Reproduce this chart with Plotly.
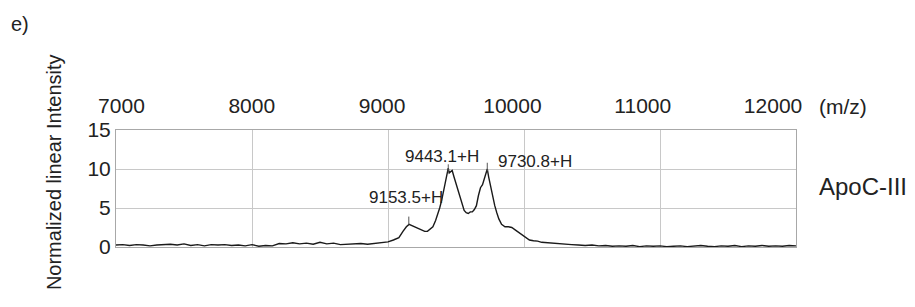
import plotly.graph_objects as go

# ---- data ----
mz = [7000, 7050, 7100, 7150, 7200, 7250, 7300, 7350, 7400, 7450, 7500, 7550, 7600, 7650,
      7700, 7750, 7800, 7850, 7900, 7950, 8000, 8050, 8100, 8150, 8200, 8250, 8300, 8350,
      8400, 8450, 8500, 8550, 8600, 8650, 8700, 8750, 8800, 8850, 8900, 8950, 9000, 9040,
      9080, 9110, 9135, 9155, 9175, 9200, 9240, 9270, 9290, 9310, 9330, 9350, 9365, 9380,
      9395, 9410, 9425, 9435, 9443, 9450, 9460, 9472, 9485, 9500, 9515, 9530, 9545, 9560,
      9575, 9590, 9605, 9620, 9635, 9650, 9665, 9680, 9695, 9705, 9718, 9730, 9740, 9755,
      9770, 9785, 9800, 9815, 9835, 9860, 9885, 9910, 9935, 9960, 9985, 10010, 10040, 10070,
      10100, 10130, 10160, 10200, 10250, 10300, 10350, 10400, 10450, 10500, 10550, 10600,
      10650, 10700, 10750, 10800, 10850, 10900, 10950, 11000, 11050, 11100, 11150, 11200,
      11250, 11300, 11350, 11400, 11450, 11500, 11550, 11600, 11650, 11700, 11750, 11800,
      11850, 11900, 11950, 12000]
intensity = [0.25, 0.3, 0.2, 0.3, 0.25, 0.15, 0.25, 0.3, 0.35, 0.25, 0.4, 0.2, 0.3, 0.15,
             0.3, 0.25, 0.3, 0.2, 0.25, 0.15, 0.3, 0.1, 0.2, 0.15, 0.45, 0.4, 0.55, 0.4,
             0.5, 0.35, 0.6, 0.4, 0.5, 0.3, 0.35, 0.4, 0.45, 0.35, 0.45, 0.5, 0.65, 0.9,
             1.2, 2.0, 2.6, 2.9, 2.75, 2.5, 2.2, 2.0, 2.0, 2.3, 2.6, 3.4, 4.1, 5.0,
             6.0, 7.4, 8.9, 9.8, 10.1, 9.5, 9.6, 9.8, 9.0, 8.1, 7.1, 6.2, 5.3, 4.7,
             4.4, 4.3, 4.5, 4.5, 4.8, 5.3, 6.6, 7.6, 8.0, 8.6, 9.4, 10.0, 9.0, 7.7,
             6.4, 5.3, 4.4, 3.6, 2.9, 2.6, 2.6, 2.5, 2.2, 1.9, 1.5, 1.2, 0.9, 0.8,
             0.75, 0.6, 0.55, 0.5, 0.4, 0.35, 0.3, 0.25, 0.2, 0.25, 0.15, 0.2,
             0.1, 0.15, 0.1, 0.2, 0.05, 0.15, 0.1, 0.15, 0.05, 0.1, 0.15, 0.05,
             0.1, 0.2, 0.1, 0.05, 0.15, 0.1, 0.2, 0.05, 0.15, 0.1, 0.2, 0.1,
             0.15, 0.1, 0.2, 0.15]

peak_mz = [9153, 9443, 9730]
peak_base = [2.9, 9.6, 9.7]
peak_top = [3.9, 10.6, 10.8]
peak_labels = ["9153.5+H", "9443.1+H", "9730.8+H"]
label_x = [9132, 9400, 10081]
label_y = [6.4, 11.6, 10.9]

x_ticks = [7000, 8000, 9000, 10000, 11000, 12000]
x_label_range = [6958, 12176]   # the printed scale sits slightly off the grid
y_ticks = [0, 5, 10, 15]

FONT = "Arial, 'Liberation Sans', sans-serif"
TXT = "#222222"

fig = go.Figure()
fig.add_trace(go.Scatter(x=mz, y=intensity, mode="lines",
                         line=dict(color="#1a1a1a", width=1.4), hoverinfo="skip"))

# small peak marker lines
mx, my = [], []
for p, b, t in zip(peak_mz, peak_base, peak_top):
    mx += [p, p, None]
    my += [b, t, None]
fig.add_trace(go.Scatter(x=mx, y=my, mode="lines",
                         line=dict(color="#555555", width=1), hoverinfo="skip"))

# invisible trace on the label axis so it renders
fig.add_trace(go.Scatter(x=[x_ticks[0]], y=[y_ticks[0]], xaxis="x2", mode="markers",
                         marker=dict(opacity=0), hoverinfo="skip"))

for lx, ly, txt in zip(label_x, label_y, peak_labels):
    fig.add_annotation(x=lx, y=ly, xref="x", yref="y", text=txt, showarrow=False,
                       font=dict(family=FONT, size=17, color=TXT),
                       xanchor="center", yanchor="middle")

fig.add_annotation(x=-0.091, y=0.641, xref="paper", yref="paper",
                   text="Normalized linear Intensity", textangle=-90, showarrow=False,
                   font=dict(family=FONT, size=20, color=TXT), xanchor="center", yanchor="middle")
fig.add_annotation(x=-0.141, y=1.906, xref="paper", yref="paper", text="e)",
                   showarrow=False, font=dict(family=FONT, size=20, color=TXT),
                   xanchor="center", yanchor="middle")
fig.add_annotation(x=1.031, y=1.197, xref="paper", yref="paper", text="(m/z)",
                   showarrow=False, font=dict(family=FONT, size=21, color=TXT),
                   xanchor="left", yanchor="middle")
fig.add_annotation(x=1.031, y=0.513, xref="paper", yref="paper", text="ApoC-III",
                   showarrow=False, font=dict(family=FONT, size=24, color=TXT),
                   xanchor="left", yanchor="middle")

# page body adds an 8px offset, compensated in the margins
fig.update_layout(
    width=915, height=307,
    margin=dict(l=108, r=127, t=122, b=68),
    paper_bgcolor="white", plot_bgcolor="white",
    showlegend=False,
    font=dict(family=FONT, size=20, color=TXT),
    xaxis=dict(range=[7000, 12000], side="top", tickvals=x_ticks, showticklabels=False,
               showgrid=True, gridcolor="#c8c8c8", automargin=False,
               gridwidth=1, showline=True, mirror=True, linecolor="#a8a8a8", linewidth=1,
               zeroline=False, ticks=""),
    xaxis2=dict(range=x_label_range, overlaying="x", side="top", tickvals=x_ticks,
                ticktext=[str(v) for v in x_ticks], showgrid=False, showline=False,
                zeroline=False, ticks="", automargin=False, ticklabelstandoff=12,
                tickfont=dict(family=FONT, size=21, color=TXT)),
    yaxis=dict(range=[0, 15], tickvals=y_ticks, showgrid=True, gridcolor="#c8c8c8",
               gridwidth=1, showline=True, mirror=True, linecolor="#a8a8a8", linewidth=1,
               zeroline=False, ticks="", ticklabelstandoff=0, automargin=False,
               tickfont=dict(family=FONT, size=21, color=TXT)),
)

fig.write_html("out.html")
